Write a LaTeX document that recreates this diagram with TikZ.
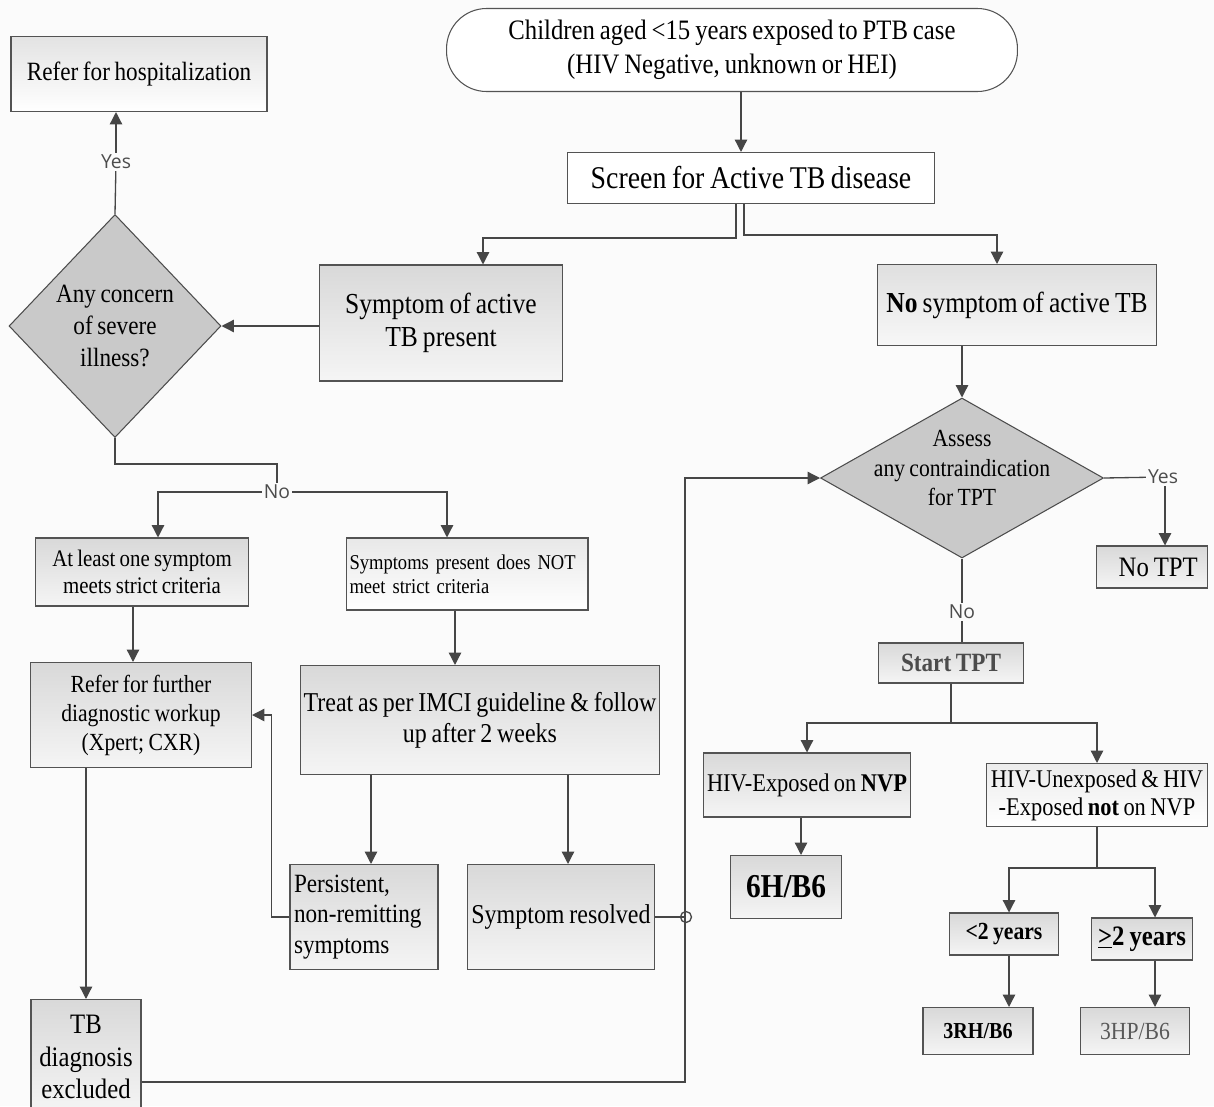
\documentclass[tikz,border=0pt]{standalone}
\usepackage{fontspec}
\setmainfont{Liberation Serif}[FakeStretch=0.88,WordSpace=0.8]
\newfontfamily\lblfont{Open Sans}
\usetikzlibrary{shapes.geometric,arrows.meta}

\begin{document}
\begin{tikzpicture}[x=0.02cm,y=-0.02cm,
  box/.style={draw=gray!65!black,line width=0.6pt,top color=gray!30,bottom color=gray!8,align=center,inner sep=2pt},
  wbox/.style={box,top color=white,bottom color=white},
  dia/.style={diamond,draw=gray!60!black,line width=0.6pt,fill=gray!42,inner sep=0pt},
  line/.style={draw=gray!55!black,line width=0.75pt},
  arr/.style={line,-{Triangle[length=7pt,width=7pt]}},
  lbl/.style={font=\lblfont\fontsize{11}{13}\selectfont,text=gray!60!black,inner sep=1pt,fill=gray!3}]
\fill[gray!3] (0,0) rectangle (1214,1106);
\useasboundingbox (0,0) rectangle (1214,1106);

% top of the chart
\node[wbox,rounded corners=0.8cm,minimum width=11.42cm,minimum height=1.66cm,font=\fontsize{16}{19.5}\selectfont] (start) at (732,50) {Children aged <15 years exposed to PTB case\\(HIV Negative, unknown or HEI)};
\node[wbox,minimum width=7.34cm,minimum height=1.02cm,font=\fontsize{18}{21}\selectfont] (scr) at (751,178) {Screen for Active TB disease};
\node[box,top color=gray!22,bottom color=white,minimum width=5.12cm,minimum height=1.5cm,font=\fontsize{15}{18}\selectfont] (hosp) at (139,74) {Refer for hospitalization};
\node[dia,minimum width=4.24cm,minimum height=4.46cm] (ill) at (115,326) {};
\node[font=\fontsize{15}{18.2}\selectfont,align=center] (illt) at (ill) {Any concern\\of severe\\illness?};
\node[box,minimum width=4.86cm,minimum height=2.32cm,font=\fontsize{16.5}{19}\selectfont] (symp) at (441,323) {Symptom of active\\TB present};
\node[box,top color=gray!25,bottom color=gray!6,minimum width=5.58cm,minimum height=1.62cm,font=\fontsize{16.5}{19}\selectfont] (nosymp) at (1017,305) {\textbf{No} symptom of active TB};

% right branch
\node[dia,minimum width=5.66cm,minimum height=3.2cm] (ci) at (962,478) {};
\node[font=\fontsize{14}{17}\selectfont,align=center] (cit) at (962,468) {Assess\\any contraindication\\for TPT};
\node[box,minimum width=2.22cm,minimum height=0.84cm,font=\fontsize{16}{19}\selectfont] (notpt) at (1152,567) {\hspace*{0.25cm}No TPT};
\node[box,minimum width=2.9cm,minimum height=0.8cm,text=gray!60!black,font=\bfseries\fontsize{15}{18}\selectfont] (tpt) at (951,663) {Start TPT};
\node[box,minimum width=3.96cm,minimum height=1.28cm,font=\fontsize{14.5}{17}\selectfont] (nvp) at (807,785) {HIV-Exposed on \textbf{NVP}};
\node[box,top color=gray!15,bottom color=white,minimum width=4.42cm,minimum height=1.26cm,font=\fontsize{14.5}{16}\selectfont] (unexp) at (1097,795) {HIV-Unexposed \& HIV\\-Exposed \textbf{not} on NVP};
\node[box,minimum width=2.22cm,minimum height=1.26cm,font=\bfseries\fontsize{19}{22}\selectfont] (b6) at (786,887) {6H/B6};
\node[box,minimum width=2.18cm,minimum height=0.84cm,font=\bfseries\fontsize{14}{17}\selectfont] (lt2) at (1004,934) {<2 years};
\node[box,minimum width=2.02cm,minimum height=0.84cm,font=\bfseries\fontsize{16}{19}\selectfont] (ge2) at (1142,939) {\underline{>}2 years};
\node[box,minimum width=2.2cm,minimum height=0.94cm,font=\bfseries\fontsize{13}{16}\selectfont] (rh) at (978,1031) {3RH/B6};
\node[box,minimum width=2.18cm,minimum height=0.94cm,text=gray!70!black,font=\fontsize{14}{17}\selectfont] (hp) at (1135,1031) {3HP/B6};

% left branch
\node[box,minimum width=4.26cm,minimum height=1.36cm,font=\fontsize{13.5}{15}\selectfont] (one) at (142,572) {At least one symptom\\meets strict criteria};
\node[box,top color=gray!18,bottom color=white,minimum width=4.84cm,minimum height=1.44cm,inner xsep=1pt,text width=4.7cm,align=left,font=\fontsize{12}{13.5}\selectfont] (notm) at (467,574) {Symptoms present does NOT\\meet strict criteria};
\node[box,minimum width=4.42cm,minimum height=2.1cm,font=\fontsize{14}{16.5}\selectfont] (furth) at (141,715) {Refer for further\\diagnostic workup\\(Xpert; CXR)};
\node[box,minimum width=7.1cm,minimum height=2.18cm,font=\fontsize{15.5}{17.5}\selectfont] (treat) at (480,720) {Treat as per IMCI guideline \& follow\\up after 2 weeks};
\node[box,minimum width=2.96cm,minimum height=2.1cm,text width=2.8cm,align=left,font=\fontsize{15}{17.5}\selectfont] (pers) at (364,917) {Persistent,\\non-remitting\\symptoms};
\node[box,minimum width=3.7cm,minimum height=2.1cm,font=\fontsize{15.5}{19}\selectfont] (res) at (561,917) {Symptom resolved};
\node[box,minimum width=2.2cm,minimum height=2.3cm,font=\fontsize{16}{18.5}\selectfont] (excl) at (86,1057) {TB\\diagnosis\\excluded};

% yes / no labels
\node[lbl] (yes1) at (116,162) {Yes};
\node[lbl] (no1) at (277,492) {No};
\node[lbl] (yes2) at (1163,477) {Yes};
\node[lbl] (no2) at (962,612) {No};

% connectors
\draw[arr] (start.south -| 741,0) -- (scr.north -| 741,0);
\draw[arr] (scr.south -| 736,0) |- (483,238) -- (symp.north -| 483,0);
\draw[arr] (scr.south -| 744,0) |- (997,235) -- (nosymp.north -| 997,0);
\draw[arr] (symp.west |- ill.east) -- (ill.east);
\draw[line] (ill.north) -- (yes1);
\draw[arr] (yes1) -- (hosp.south -| yes1);
\draw[line] (ill.south) |- (277,464) -- (no1);
\draw[arr] (no1) -| (one.north -| 158,0);
\draw[arr] (no1) -| (notm.north -| 447,0);
\draw[arr] (one.south -| 133,0) -- (furth.north -| 133,0);
\draw[arr] (notm.south -| 455,0) -- (treat.north -| 455,0);
\draw[arr] (treat.south -| 371,0) -- (pers.north -| 371,0);
\draw[arr] (treat.south -| 568,0) -- (res.north -| 568,0);
\draw[arr] (pers.west) -- ++(-18,0) |- (furth.east);
\draw[arr] (furth.south -| excl.north) -- (excl.north);
\draw[arr] (excl.east |- 0,1082) -| (ci.west -| 685,0) -- (ci.west);
\coordinate (j) at (686,917);
\draw[line] (res.east) -- (j);
\draw[line] (j) circle[radius=0.11cm];

\draw[arr] (nosymp.south -| ci.north) -- (ci.north);
\draw[line] (ci.east) -- (yes2);
\draw[arr] (yes2.south -| 1165,0) -- (notpt.north -| 1165,0);
\draw[line] (ci.south) -- (no2);
\draw[line] (no2) -- (tpt.north -| no2);
\coordinate (k) at (tpt.south |- 0,723);
\draw[line] (tpt.south) -- (k);
\draw[arr] (k) -| (nvp.north);
\draw[arr] (k) -| (unexp.north);
\draw[arr] (nvp.south -| 801,0) -- (b6.north -| 801,0);
\coordinate (m) at (unexp.south |- 0,868);
\draw[line] (unexp.south) -- (m);
\draw[arr] (m) -| (lt2.north -| 1009,0);
\draw[arr] (m) -| (ge2.north -| 1155,0);
\draw[arr] (lt2.south -| 1009,0) -- (rh.north -| 1009,0);
\draw[arr] (ge2.south -| 1155,0) -- (hp.north -| 1155,0);
\end{tikzpicture}
\end{document}
